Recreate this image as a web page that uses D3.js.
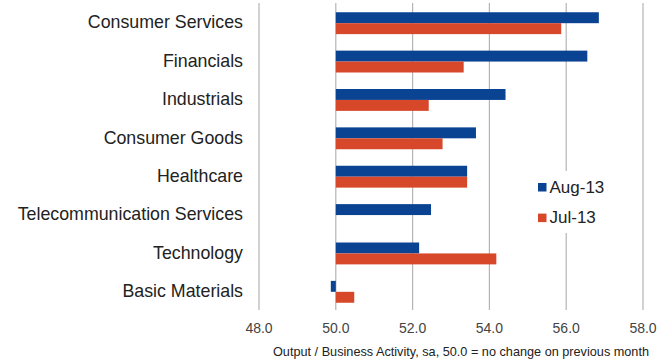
<!DOCTYPE html>
<html>
<head>
<meta charset="utf-8">
<script src="https://cdn.jsdelivr.net/npm/d3@7"></script>
<style>
body { margin: 0; background: #fff; }
text { font-family: "Liberation Sans", Arial, sans-serif; }
</style>
</head>
<body>
<script>
const categories = ["Consumer Services", "Financials", "Industrials", "Consumer Goods",
    "Healthcare", "Telecommunication Services", "Technology", "Basic Materials"];
const series = ["Aug-13", "Jul-13"];
const aug13 = [56.85, 56.55, 54.42, 53.65, 53.42, 52.48, 52.17, 49.87];
const jul13 = [55.87, 53.33, 52.42, 52.78, 53.42, 50.0, 54.18, 50.48];
const ticks = [48, 50, 52, 54, 56, 58];
const colors = ["#0b4393", "#d7472a"];

const width = 670, height = 360;
const plotTop = 3, plotBottom = 310;

const svg = d3.select("body").append("svg")
.attr("width", width)
.attr("height", height);

const x = d3.scaleLinear()
.domain([48, 58])
.range([259, 643]);

const y = d3.scaleBand()
.domain(categories)
.range([4, 311])
.paddingInner(0.43)
.paddingOuter(0.215);

const ySub = d3.scaleBand()
.domain(series)
.range([0, y.bandwidth()]);

// gridlines
svg.append("g")
.selectAll("line")
.data(ticks)
.enter()
.append("line")
.attr("x1", d => x(d))
.attr("x2", d => x(d))
.attr("y1", plotTop)
.attr("y2", plotBottom)
.attr("stroke", "#b4b4b4")
.attr("stroke-width", 1.2);

// tick labels
svg.append("g")
.selectAll("text")
.data(ticks)
.enter()
.append("text")
.attr("x", d => x(d))
.attr("y", 333)
.attr("text-anchor", "middle")
.style("font-size", "14px")
.style("fill", "#444")
.text(d => d.toFixed(1));

// bars
const rows = categories.map((c, i) => ({cat: c, vals: [aug13[i], jul13[i]]}));

const groups = svg.append("g")
.selectAll("g")
.data(rows)
.enter()
.append("g")
.attr("transform", d => "translate(0," + y(d.cat) + ")");

groups.selectAll("rect")
.data(d => d.vals.map((v, j) => ({key: series[j], v: v, j: j})))
.enter()
.append("rect")
.attr("x", d => x(Math.min(50, d.v)))
.attr("y", d => ySub(d.key))
.attr("width", d => Math.abs(x(d.v) - x(50)))
.attr("height", ySub.bandwidth())
.attr("fill", d => colors[d.j]);

// category labels
svg.append("g")
.selectAll("text")
.data(categories)
.enter()
.append("text")
.attr("x", 243)
.attr("y", d => y(d) + y.bandwidth() / 2 - 1)
.attr("dy", "0.35em")
.attr("text-anchor", "end")
.style("font-size", "17.8px")
.style("fill", "#222")
.text(d => d);

// legend
svg.append("rect")
.attr("x", 532)
.attr("y", 171)
.attr("width", 80)
.attr("height", 62)
.attr("fill", "#fff");

const legend = svg.append("g")
.selectAll("g")
.data(series)
.enter()
.append("g")
.attr("transform", (d, i) => "translate(538," + (183 + i * 30.6) + ")");

legend.append("rect")
.attr("width", 8.5)
.attr("height", 8.5)
.attr("fill", (d, i) => colors[i]);

legend.append("text")
.attr("x", 11.5)
.attr("y", 9.8)
.style("font-size", "17px")
.style("fill", "#222")
.text(d => d);

// axis title
svg.append("text")
.attr("x", 461)
.attr("y", 356)
.attr("text-anchor", "middle")
.style("font-size", "12.7px")
.style("fill", "#222")
.text("Output / Business Activity,  sa, 50.0 = no change on previous month");
</script>
</body>
</html>
